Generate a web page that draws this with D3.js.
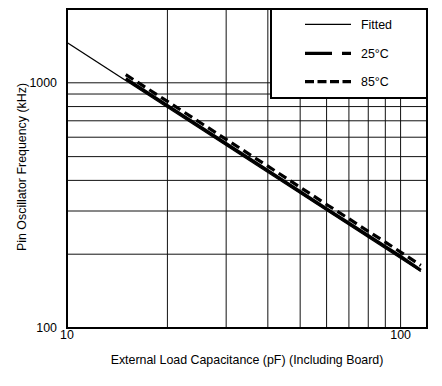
<!DOCTYPE html>
<html>
<head>
<meta charset="utf-8">
<script src="https://cdn.jsdelivr.net/npm/d3@7"></script>
<style>
  body { margin: 0; background: #fff; }
  text { font-family: "Liberation Sans", Arial, sans-serif; font-size: 12.4px; fill: #000; }
</style>
</head>
<body>
<svg id="chart"></svg>
<script>
const width = 442;
const height = 386;
const margin = {top: 9, right: 15, bottom: 58, left: 67};

// data
const fittedCap = [10, 115];
const fittedFreq = [1460, 170];

const cap = [15, 20, 30, 40, 50, 60, 70, 80, 90, 100, 115];
const freq25 = [1040, 808, 565, 439, 360, 306, 268, 238, 215, 196, 172];
const freq85 = [1080, 840, 588, 457, 375, 319, 279, 248, 224, 204, 180];

const xGrid = [20, 30, 40, 50, 60, 70, 80, 90, 100];
const yGrid = [200, 300, 400, 500, 600, 700, 800, 900, 1000];
const xTicks = [10, 100];
const yTicks = [100, 1000];

const legendItems = ['Fitted', '25°C', '85°C'];

const svg = d3.select('#chart')
    .attr('width', width)
    .attr('height', height);

const x = d3.scaleLog().domain([10, 120]).range([margin.left, width - margin.right]);
const y = d3.scaleLog().domain([100, 2000]).range([height - margin.bottom, margin.top]);

// grid
svg.append('g').selectAll('line').data(xGrid)
    .enter().append('line')
    .attr('x1', d => x(d)).attr('x2', d => x(d))
    .attr('y1', y(2000)).attr('y2', y(100))
    .attr('stroke', '#111').attr('stroke-width', 1);

svg.append('g').selectAll('line').data(yGrid)
    .enter().append('line')
    .attr('x1', x(10)).attr('x2', x(120))
    .attr('y1', d => y(d)).attr('y2', d => y(d))
    .attr('stroke', '#111').attr('stroke-width', 1);

// series
const line = d3.line().x(d => x(d[0])).y(d => y(d[1]));

svg.append('path')
    .datum(cap.map((c, i) => [c, freq25[i]]))
    .attr('d', line)
    .attr('fill', 'none').attr('stroke', '#000').attr('stroke-width', 3.2);

svg.append('path')
    .datum(cap.map((c, i) => [c, freq85[i]]))
    .attr('d', line)
    .attr('fill', 'none').attr('stroke', '#000').attr('stroke-width', 3.2)
    .attr('stroke-dasharray', '9,5');

svg.append('path')
    .datum(fittedCap.map((c, i) => [c, fittedFreq[i]]))
    .attr('d', line)
    .attr('fill', 'none').attr('stroke', '#000').attr('stroke-width', 1.3);

// frame
svg.append('rect')
    .attr('x', x(10)).attr('y', y(2000))
    .attr('width', x(120) - x(10)).attr('height', y(100) - y(2000))
    .attr('fill', 'none').attr('stroke', '#000').attr('stroke-width', 2);

// tick labels
svg.append('g').selectAll('text').data(xTicks)
    .enter().append('text')
    .attr('x', d => x(d)).attr('y', 338.5)
    .attr('text-anchor', 'middle')
    .text(d => d);

svg.append('g').selectAll('text').data(yTicks)
    .enter().append('text')
    .attr('x', 57).attr('y', d => y(d))
    .attr('dy', '0.35em')
    .attr('text-anchor', 'end')
    .text(d => d);

// axis titles
svg.append('text')
    .attr('x', 247).attr('y', 364)
    .attr('text-anchor', 'middle')
    .text('External Load Capacitance (pF) (Including Board)');

svg.append('text')
    .attr('transform', 'translate(26,167) rotate(-90)')
    .attr('text-anchor', 'middle')
    .text('Pin Oscillator Frequency (kHz)');

// legend
const legend = svg.append('g');
legend.append('rect')
    .attr('x', 271).attr('y', y(2000))
    .attr('width', x(120) - 271).attr('height', 98 - y(2000))
    .attr('fill', '#fff').attr('stroke', '#000').attr('stroke-width', 2);

const rowY = [24.3, 53.3, 81.7];
const legendStyle = [
    {w: 1.3, dash: null},
    {w: 3.2, dash: '27,10'},
    {w: 3.2, dash: '9,3.5'}
];

legendItems.forEach((name, i) => {
    legend.append('line')
        .attr('x1', 305).attr('x2', 351)
        .attr('y1', rowY[i]).attr('y2', rowY[i])
        .attr('stroke', '#000').attr('stroke-width', legendStyle[i].w)
        .attr('stroke-dasharray', legendStyle[i].dash);
    legend.append('text')
        .attr('x', 361).attr('y', rowY[i])
        .attr('dy', '0.35em')
        .text(name);
});
</script>
</body>
</html>
